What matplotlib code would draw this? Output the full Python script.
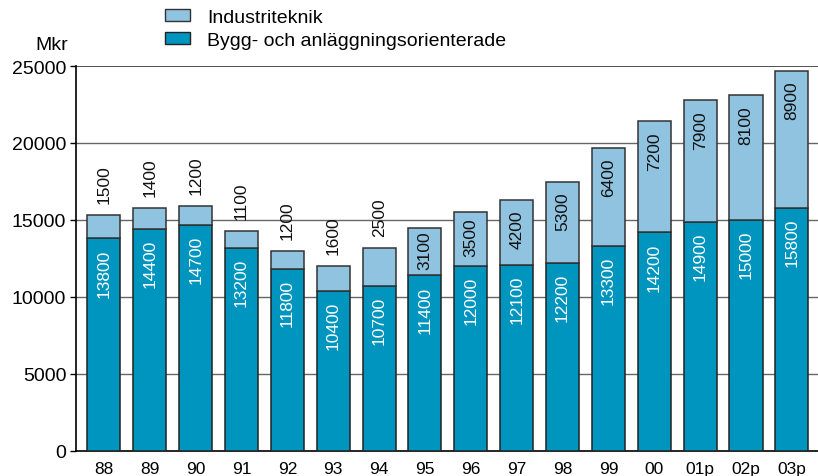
import matplotlib
matplotlib.use("Agg")
import matplotlib.pyplot as plt
from matplotlib.patches import Patch

plt.rcParams['font.family'] = ['Liberation Sans', 'DejaVu Sans']

years = ["88", "89", "90", "91", "92", "93", "94", "95", "96", "97", "98", "99", "00", "01p", "02p", "03p"]
bygg = [13800, 14400, 14700, 13200, 11800, 10400, 10700, 11400, 12000, 12100, 12200, 13300, 14200, 14900, 15000, 15800]
industri = [1500, 1400, 1200, 1100, 1200, 1600, 2500, 3100, 3500, 4200, 5300, 6400, 7200, 7900, 8100, 8900]

c_base = '#0095BF'
c_top = '#8FC3E0'

fig = plt.figure(figsize=(8.18, 4.77), dpi=100)
ax = fig.add_axes([76/818, 1-452/477, 1-76/818, (452-67)/477])

x = list(range(len(years)))
w = 0.72
ax.bar(x, bygg, width=w, color=c_base, edgecolor='#222222', linewidth=1.1, zorder=3)
ax.bar(x, industri, bottom=bygg, width=w, color=c_top, edgecolor='#333333', linewidth=1.1, zorder=3)

ax.set_ylim(0, 25000)
ax.set_xlim(-0.61, 15.57)
ax.set_yticks([0, 5000, 10000, 15000, 20000, 25000])
ax.set_yticklabels(['0', '5000', '10000', '15000', '20000', '25000'], fontsize=14)
ax.set_xticks(x)
ax.set_xticklabels(years, fontsize=12.5)
ax.tick_params(axis='x', length=0, pad=7)
ax.tick_params(axis='y', length=4, width=1, pad=3, direction='out')

for yv in [5000, 10000, 15000, 20000]:
    ax.axhline(yv, color='#666666', linewidth=1, zorder=1)
ax.axhline(25000, color='#333333', linewidth=1.2, zorder=1)

for s in ['top', 'right']:
    ax.spines[s].set_visible(False)
ax.spines['left'].set_linewidth(1.2)
ax.spines['bottom'].set_linewidth(1.2)

px = 25000 / 385.0
label_len = 2800
for i in x:
    b = bygg[i]
    t = industri[i]
    top = b + t
    ax.text(i, b - 10*px, f"{b}", rotation=90, ha='center', va='top',
            color='white', fontsize=12.5, zorder=4)
    if t < label_len + 200:
        ax.text(i, top + 12*px, f"{t}", rotation=90, ha='center', va='bottom',
                color='#111111', fontsize=12.5, zorder=4)
    else:
        off = min(10*px, max(0, (t - label_len)/2))
        ax.text(i, top - off, f"{t}", rotation=90, ha='center', va='top',
                color='#111111', fontsize=12.5, zorder=4)

fig.text(68/818, 1-45/477, "Mkr", ha='right', va='center', fontsize=14)

handles = [Patch(facecolor=c_top, edgecolor='#333333', linewidth=1, label='Industriteknik'),
           Patch(facecolor=c_base, edgecolor='#222222', linewidth=1, label='Bygg- och anläggningsorienterade')]
fig.legend(handles=handles, loc='upper left', bbox_to_anchor=(165/818, 1-10/477),
           frameon=False, fontsize=14, handlelength=1.3, handleheight=0.55,
           handletextpad=0.85, labelspacing=0.3, borderpad=0, borderaxespad=0)

fig.savefig('out.png', dpi=100)
